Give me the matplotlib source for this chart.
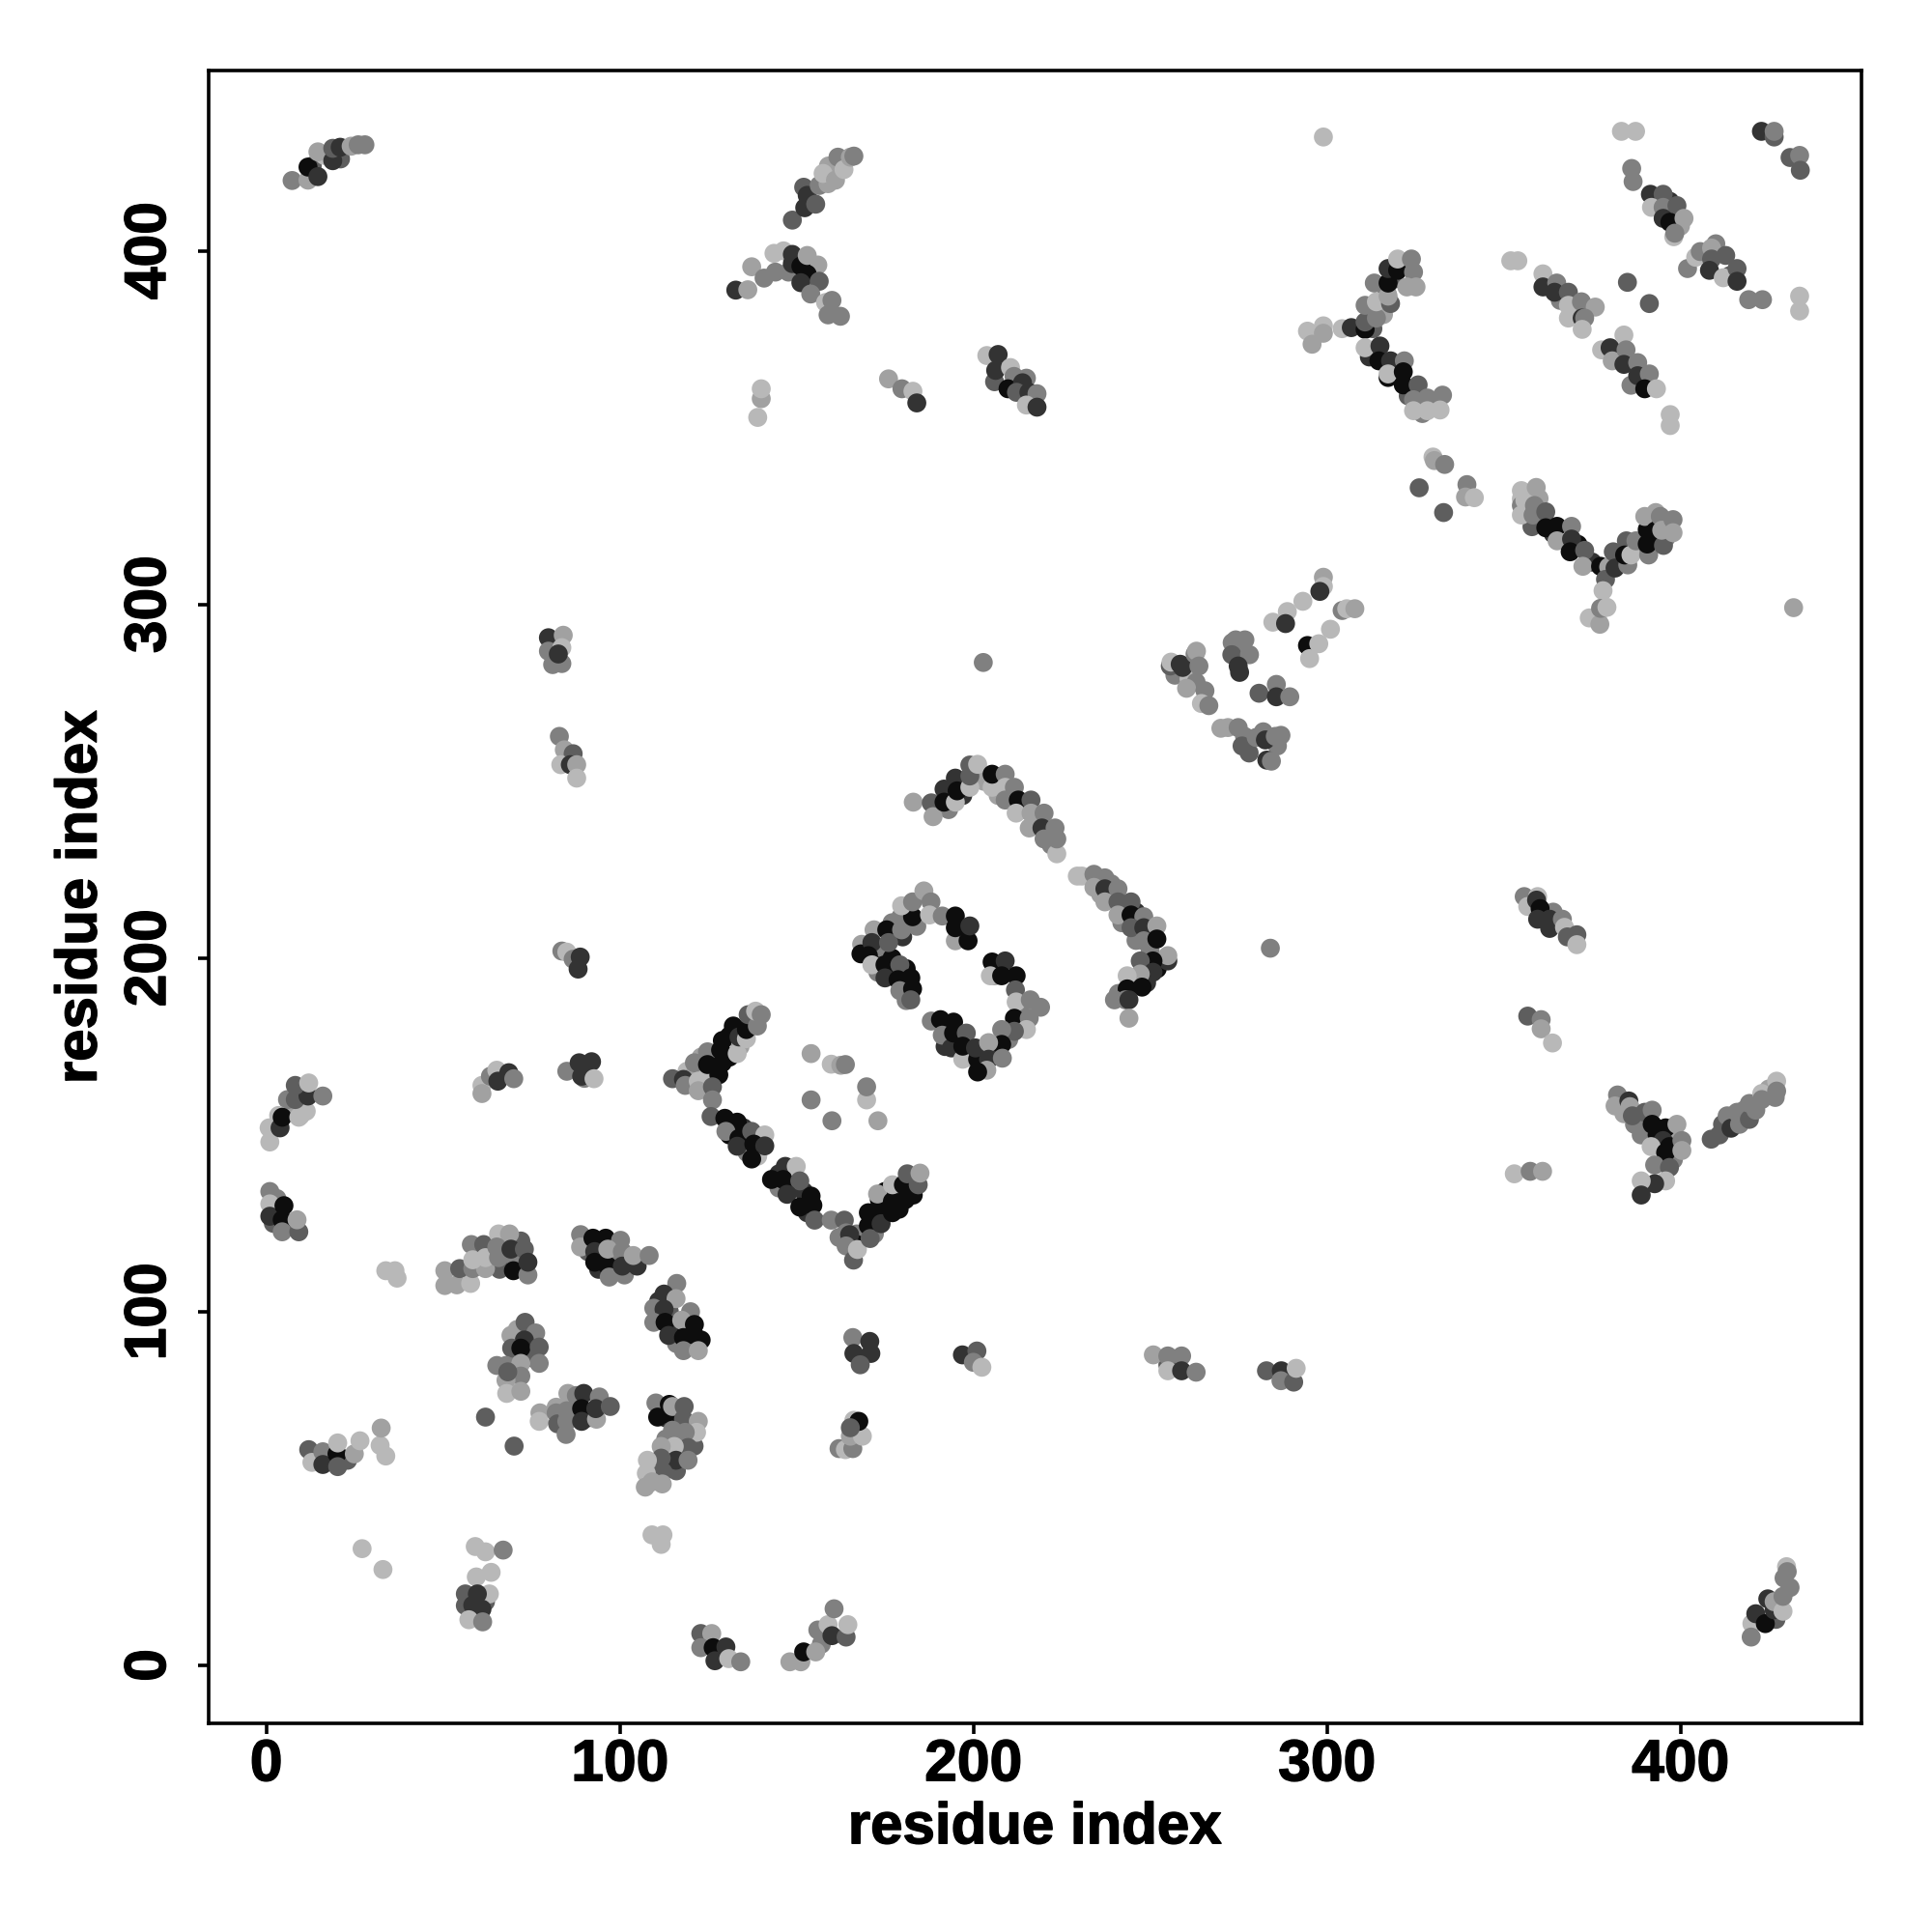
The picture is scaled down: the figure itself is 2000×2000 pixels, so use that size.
import matplotlib
matplotlib.use("Agg")
import matplotlib.pyplot as plt
import matplotlib.patheffects as pe

plt.rcParams['font.family'] = ['Liberation Sans', 'DejaVu Sans']
plt.rcParams['font.weight'] = 'bold'

# (residue i, residue j, contact level), 6 is strongest
# points half hidden inside the thick bands, drawn first
under = [
 (119,168,1),(121,167,2),(125,167,1),(127,172,6),(131,172,6),(131,178,6),(134,175,2),(123,172,2),(128,167,6),(137,182,5),
 (131,150,6),(135,152,5),(135,148,2),(136,145,3),(139,144,1),(145,139,5),(145,135,3),(148,135,6),(152,134,5),(153,128,5),
 (167,122,3),(167,119,6),(162,121,3),(172,127,6),(172,122,3),(175,128,6),(175,134,6),(179,134,5),(183,133,6),(179,129,6),
 (173,201,5),(174,203,3),(177,200,6),(181,197,6),(177,196,6),(173,196,3),(180,206,5),(184,209,3),(177,210,3),(181,188,3),
 (193,181,6),(196,177,5),(192,175,5),(199,172,2),(203,169,6),(206,173,5),(210,177,3),(213,186,3),(197,207,6),(206,195,2),
 (193,246,6),(197,246,5),(193,242,3),(197,250,3),(203,250,2),(207,246,2),(214,242,3),(218,239,2),(222,232,3),(242,214,2),
 (242,210,3),(246,213,5),(250,202,3),(252,197,6),(249,193,5),(245,193,5),(241,190,3),(236,218,2),(239,221,3),(246,205,3),
 (60,114,2),(70,114,3),(72,120,4),(66,112,4),(94,112,5),(99,115,3),(99,119,5),(95,115,6),(103,115,4),(91,117,4),
 (111,103,5),(114,100,4),(115,96,6),(117,95,5),(119,95,6),(123,92,6),(116,91,3),(70,86,3),(75,87,4),(71,95,2),
 (113,70,5),(116,67,3),(113,64,3),(117,60,4),(121,62,4),(116,55,4),(109,55,2),(87,74,3),(91,70,4),(82,73,2),
 (18,58,4),(14,58,3),(23,58,4),(58,19,3),(60,14,4),(62,18,4),(128,4,5),(157,6,3),(427,13,4),(431,22,3),
 (7,157,2),(6,160,3),(2,125,4),(3,132,3),(7,124,5),(13,424,4),(21,426,4),(144,394,3),(156,396,2),
 (317,388,3),(319,392,4),(322,396,5),(316,382,2),(313,378,4),(320,366,3),(323,359,4),(329,357,2),(327,354,3),(312,370,5),
 (358,322,4),(360,330,2),(364,320,5),(371,317,6),(375,312,5),(383,312,5),(388,316,3),(393,318,5),(393,326,2),(396,319,3),
 (392,152,5),(394,147,6),(398,149,2),(387,153,3),(384,156,2),(398,143,3),(411,150,4),(418,157,3),(425,163,2),
 (393,413,4),(397,414,5),(400,407,2),(402,395,3),(410,402,3),(414,393,4),(366,386,3),(371,383,3),(386,362,3),(382,370,3),
 (257,280,3),(261,279,1),(263,278,3),(270,265,2),(278,258,4),(282,264,3),(286,260,3),(276,287,3),(361,212,5),(364,213,3),
 (206,363,4),(215,364,3),(152,418,4),(159,424,2),(81,283,3),(90,166,3),(200,87,4),(255,85,4),
]

low_left = [
 (1,148,1),(0.8,152,1),(3.5,155.5,1),(3.9,152,5),(4.5,155,6),(9.2,155,1),(9.7,155.5,1),(11.3,156.7,1),(8.2,160,4),(11.8,161,5),(8.2,164,4),(12,164.7,1),(16,161,3),
 (1,134,3),(1,130.5,1),(1,127,5),(5,130,6),(4.5,126,6),(4.5,122.6,3),(9.2,122.6,4),(8.7,126,2),
 (33.8,111.6,1),(36.4,111.6,1),(37,109.5,1),
 (50.5,107.4,2),(50.5,111.6,2),(53.9,107.6,2),(57.8,108,1),(54.7,112.2,4),(58.4,112.2,3),(58,119,3),(62,112.2,2),(58.4,114.7,1),(61.5,119,4),(62,115.3,1),(65.7,122,1),(68.8,122,2),(65.2,118.3,3),(65.7,115.3,3),(69.2,117.7,5),(73,117.7,4),(69.9,111.6,6),(74,110.4,3),(74,114,5),
 (88.9,121.8,3),(88.9,118.3,2),(92.4,120.8,6),(96,120.8,6),(92.9,117,5),(92.9,114,6),(96.6,112.9,6),(100.2,120.2,3),(96.6,117.7,2),(97,109.8,3),(101.3,110.4,3),(100.7,117,3),(100.7,112.9,5),(104.9,112.9,5),(103.8,115.9,2),(108.3,115.9,3),
 (116.1,108,3),(112.5,105,5),(115.9,103.7,2),(109.6,101,3),(112.5,100.7,5),(109.6,97,3),(112.8,97,6),(120,100,3),(113.8,93.3,5),(117.5,97.6,2),(121.1,96.4,6),(121.1,93.3,6),(118,92.7,6),(118,89,3),(122.2,89,2),
 (73.2,97,4),(76.2,94,3),(69.2,93.3,2),(73,92,5),(69.4,89.7,4),(72,89.7,6),(77.2,90,4),(77.2,85.4,3),(65.2,84.8,3),(67.8,84.8,3),(72,85.4,2),(72,81.8,3),(67.8,80.6,2),(68,76.9,1),(72,77.5,2),(68.3,83,4),
 (62,70.2,4),(70.1,62,4),
 (77.4,71.4,2),(77.2,69,1),(82,71.4,3),(82.4,68.3,4),(85,69,3),(84.8,65.3,3),(85.3,76.9,2),(87.7,76.3,3),(85,72,3),(89.8,76.9,5),(89.2,72.6,6),(89.2,69,5),(93.4,69.6,2),(94.2,75.9,3),(93.2,72.6,5),(97.3,73.2,4),
 (110.2,74.2,3),(114,73.8,6),(110.7,70.2,6),(114.3,70.8,6),(114.9,73.2,2),(118.2,73.2,4),(118,69.6,4),(122.2,69,2),(121.7,65.9,1),(118.5,65.9,3),(114.9,66.5,3),(119.3,61.6,4),(115.4,61.9,1),(111.7,61.9,2),(115.9,58,5),(119.3,58,3),(111.7,58.6,4),(112.2,54.7,4),(107.8,58,1),(107.5,54.3,1),(107.2,50.4,2),(112,51.3,2),(109.1,51.9,2),
 (109.1,36.9,1),(112.2,36.9,1),(111.7,34.2,1),
 (12,61,4),(12.9,57.4,1),(16,60.4,3),(16,56.8,5),(20,59.8,6),(20.2,62.9,1),(20.2,56.2,4),(24.9,59.8,2),(26.5,63.5,1),(32.2,62.2,1),(32.5,67.1,2),(33.8,59.2,1),
 (27.1,33,1),(33,27.1,1),
 (59.1,33.6,1),(62,32.1,1),(67,32.6,3),(59.4,25,1),(63.6,26.3,1),(63.1,20.2,1),(56.3,20.2,4),(59.7,20.2,5),(56.3,16.9,4),(61,15.9,5),(58.4,17,5),(57.3,12.9,1),(61.2,12.3,3),
 (122.9,9,4),(126,9,2),(122.9,5,3),(126.4,5,6),(130,5.2,5),(126.9,1.3,5),(130.8,1.9,1),(134.2,1,3),
]

arm_e = [
 (114.9,165.9,4),(118,165.7,5),(118.5,164,3),(121.1,170.4,3),(122.2,165.2,1),(122.2,162.5,2),(124.8,173.5,3),(124.8,169.9,6),(126.2,163.6,4),(126.2,159.9,3),(129,170.4,6),(128.5,174,6),(129,176.7,6),(133.2,173,1),(132.1,180.8,6),(133.7,177.7,5),(135.8,177.2,1),(135.8,179.8,6),(136.3,184,4),(138.9,180.8,3),(138.4,185,1),(140,184,3),
 (125.8,155.2,4),(129.7,154.7,6),(133.2,153.6,6),(130,151,3),(133.7,149,6),(133.2,146.8,5),(137.3,151,4),(141,150,1),(137.9,147.4,6),(141,146.9,5),(137.3,143.2,6),
 (142.9,137.4,6),(146.8,141.1,5),(149.9,141.1,1),(146.2,137.4,6),(150.9,137,4),(147.3,133.2,5),(150.9,129.6,6),(154.1,132.7,6),(154.6,130.1,6),(155.1,125.9,4),
 (159.8,125.9,3),(163.5,125.9,4),(164,122.3,3),(165,121.8,5),(164,118.6,3),(166.1,114.6,4),(167.2,117.6,1),(170.3,128,6),(170.3,124.3,6),(170.8,120.7,4),(173.9,124.9,5),(173.4,131.7,6),(172.9,133.3,2),(177.1,131.2,6),(177.1,128,6),(177.1,135.9,1),(180.8,131.7,6),(180.2,135.9,6),(181.3,139,4),(184.4,135.9,4),(184.9,139.2,2),
 (154.1,173,2),(159.8,170,1),(162.5,169.7,2),(163.8,169.9,3),(154.1,159.9,3),(160,154,3),(169.8,159.9,1),(169.8,163.6,3),(173,154,2),
]

box_d = [
 (168.4,203.9,2),(168.2,201.2,6),(171.9,208,2),(171.3,204.4,5),(170.3,200.7,6),(171.3,198.1,1),(175.5,208,6),(176,204.4,4),(179.7,208,3),(179.5,211.7,3),(182.8,211.7,6),(179.7,214.8,1),(182.8,215.9,3),(186,219,2),(188,215.9,3),(187.6,212.2,1),
 (175,198.1,6),(179.2,198.1,4),(175,194.4,5),(178.7,193.9,6),(182.3,194.4,6),(179.2,190.8,3),(182.8,191.3,6),(182.3,188.2,4),
 (191.2,211.9,3),(194.9,204.9,2),(194.9,211.9,6),(194.9,208.6,6),(198.5,204.9,6),(199,209.1,5),
 (205.3,198.9,6),(209,199.2,5),(204.8,195,1),(208,195,6),(212.1,195,6),(211.9,191,4),(212.1,187.6,1),(216.1,188.2,3),(219,186.1,3),(211.6,183,6),(215.8,183,3),(215,179.8,1),(211.6,179.3,4),(208,179.8,3),(208,175.6,6),
 (188.1,182.2,3),(190.7,182.6,6),(194.4,181.9,6),(191.2,178.2,3),(193.8,174.6,5),(194.4,178.8,6),(198,178.8,4),(197,171.4,1),(197,175.1,6),(201.2,171.4,6),(200.6,174.6,5),(204.3,176.1,2),(204.3,171.4,5),(203.8,168.3,2),(201.2,167.8,6),(208.2,171.7,3),
 (183,244.1,2),(188.1,243.9,4),(188.6,240,2),(191.7,247.8,5),(191.7,244.1,6),(194.9,244.1,1),(194.9,250.9,5),(195.4,247.3,6),(199,248.3,1),(199,251.5,4),(199,254.6,4),(201.2,254.8,1),
 (205.3,248.3,1),(205.3,252,6),(209,252,3),(209,248.3,1),(211.6,248.3,3),(209,244.7,3),(212.7,244.7,6),(216.3,244.7,4),(212.1,241,1),(216.3,241,2),(220,241,3),(215.8,236.8,2),(219.4,236.8,5),(223.1,236.8,3),(220,233.7,3),(223.6,229.5,1),(223.6,233.7,3),
 (229.4,223.2,1),(230.7,223.2,1),(234.1,223.7,3),(237.2,222.7,3),(234.1,220,2),(237.2,219.6,5),(240.9,219.6,3),(237.2,215.9,2),(240.9,215.9,4),(244.6,215.9,4),(240.9,212.2,2),(244.6,212.2,6),(248.2,211.7,3),(244.6,208.6,4),(248.2,208.6,5),(251.9,209.1,2),(248.2,204.9,3),(251.9,205.4,6),
 (255,199.2,5),(255,200.7,2),(250.8,199.2,6),(247.2,199.2,4),(250.8,196,5),(247.2,195.5,2),(243.5,195,1),(247.7,191.8,6),(243.5,191.3,6),(239.9,188.2,3),(243,188.2,3),(244,188.2,5),(244,183,2),
]

top_left = [
 (7.3,419.9,3),(11.8,420,2),(11.8,423.7,6),(14.6,421,5),(16.4,427,1),(14.6,428,2),(18.8,425.5,5),(18.8,429,4),(20.9,429.3,5),(24,429.6,2),(26,430,3),(27.9,430,3),
 (132.8,388.9,5),(136.2,389,2),(137.3,395.5,2),(140.8,392.3,3),(143.6,399.3,1),(146.3,400,1),(147.7,394,3),(148.8,396.4,5),(148.8,399,5),(151.2,395.7,6),(153,393.4,6),(151.2,391,5),(153,398.7,2),(156.4,391.4,4),(154,387.8,3),(158.2,385.4,1),(158.9,381.9,3),(160,386,3),(162.4,381.5,3),
 (148.8,408.7,4),(152.3,412.2,5),(153,415.7,5),(155.4,413.2,4),(156.4,418.5,3),(158.9,419,2),(157.5,421.9,1),(161,420,2),(161.7,426.5,3),(163.4,423,1),(165.2,426.5,2),(166.2,426.8,3),
 (139,352.9,1),(140,358.2,2),(140,361,1),(176,363.8,2),(179.8,361,3),(182.9,360.3,1),(184,357,5),
 (203.8,370.4,1),(207,370.7,5),(206.3,366.2,5),(210.5,367,1),(211.5,364.5,3),(209.8,361,6),(213.9,362.7,5),(212.2,360,4),(215.7,360,5),(218,359.6,3),(215,356.4,1),(218,355.8,5),
 (79.8,290.6,5),(84,291.3,2),(79.8,286.8,3),(83.6,283.3,3),(83.6,287.8,1),(82.6,286,5),
 (82.9,262.7,3),(84.3,258.9,2),(86.8,257.8,4),(83.3,254.7,1),(86,254.7,5),(87.8,254.7,2),(87.8,250.9,1),
 (83.6,202,3),(85,201.7,1),(86.8,199.7,3),(88.8,200.3,5),(88.2,196.9,5),
 (85,168,3),(88.5,170.4,5),(92,170.7,5),(89.2,166.6,5),(92.7,165.9,1),
 (61,164,1),(61,161.7,2),(63.4,166.6,3),(65.2,168.3,1),(65.5,165.2,5),(68.6,167.6,5),(70,165.9,3),
]

bottom_mid = [
 (162,61.3,3),(163.8,61,1),(165.9,61.3,3),(165.2,64.8,2),(168.6,64.8,1),(166.2,69.3,1),(167.6,69,6),(165.2,67.2,4),
 (165.9,92.7,3),(170.7,91.6,5),(166.2,88.2,5),(171,88.2,5),(168,85,4),
 (196.9,87.8,5),(201,88.9,4),(200,85.7,3),(202.4,84.3,1),
 (250.9,87.8,2),(255,87.5,3),(258.9,87.5,3),(255,83.3,1),(258.9,83.3,5),(263,82.9,3),
 (282.9,83.3,4),(287.1,83.3,5),(287,80.5,3),(290.6,80.1,4),(291.3,84,1),
 (148.1,1,2),(151.2,1,2),(152,3.8,6),(155.4,3.8,2),(156,10,3),(158.9,11.5,1),(160.6,16,3),(160,8.4,5),(164,8,4),(164.5,11.5,1),
 (420.2,11.8,1),(420,8,3),(421.3,14.6,5),(424,11.8,6),(424.7,18.8,5),(426.5,15.7,5),(426.5,18,2),(429,15.3,1),(429,19.5,3),(429.3,24.7,3),(430,27.9,1),(430.2,26.5,3),
]

right_low = [
 (353,139,1),(357.5,139.7,3),(361,139.7,2),
 (356.8,183.6,4),(360.6,182.6,3),(360.6,180,2),(363.8,176,1),
 (355.8,217.4,3),(356.8,214.6,1),(359.6,217.4,1),(359.3,216.4,5),(360.3,214,6),(359.6,211,5),(363,211,5),(363,208.4,5),(366.6,211,3),(367.2,208.7,1),(368,206,4),(370.7,206.6,4),(370.7,203.8,1),
 (382.2,161.3,3),(381.5,158.2,2),(385.4,159.6,5),(385.7,158,2),(386.4,155.4,4),(389.9,156.4,4),(392,157,3),(388.9,150,3),(392,153,6),(393.4,150,6),(395.8,152,6),(395.1,148.4,5),(396.9,146.7,6),(391.7,146.7,1),(395.8,145,6),(399,153,2),(400.4,148.4,3),(400.4,145.6,2),(392.7,141.5,3),(396.9,140.8,4),(395.8,137,1),(392.7,136.2,5),(388.9,137,1),(388.9,133,5),
 (408.7,148.8,4),(411.9,153,4),(413.2,155.4,3),(414.3,151.9,5),(416,156.4,3),(416.7,153,3),(419.5,154.4,4),(419.5,158.9,3),(421.3,157,3),(423,161.7,1),(423,160,3),(426.8,160.6,3),(427.2,165.2,1),(427.2,162.4,3),
 (284,202.8,3),(202.8,283.6,3),
]

right_mid = [
 (355,332.2,1),(355,329.9,1),(355,328,3),(355,325.3,1),(356,329.4,1),(359.2,333.1,2),(358.7,328,3),(358.3,325.3,3),(361.9,326.2,4),(361.9,321.7,6),(365.1,322.1,6),(365.1,318,2),(369.2,322.1,3),(369.2,318.5,5),(368.8,314.9,6),(372.9,315.3,4),(372.4,310.8,2),(377.4,310.8,6),(379.7,310.6,2),(378.8,307.1,4),(381,314.9,4),(381.5,310.3,5),(385.1,311.2,3),(384.7,318,4),(384.2,314,6),(386,314,1),(387.4,318,3),(391,314,3),(390.6,317.1,6),(390.6,321.2,6),(389.9,324.9,2),(392.9,320.8,6),(394.3,324.9,3),(395.2,316.7,4),(394.7,321,2),(397.9,324,3),(397.9,320.3,2),
 (378.1,303.9,1),(374.2,296.2,1),(376.5,296.6,1),(377.2,294.4,2),(377.4,298.9,3),(379.2,299.2,1),
 (432,299.1,2),
 (330,341.7,1),(330.4,340.7,2),(333.3,339.6,3),(326.1,333,4),(333,326,4),(339.6,333.9,3),(339.2,330.4,2),(341.7,330.2,1),
 (255.7,282.6,4),(255.9,283.7,1),(258.5,283.1,5),(259.2,282.2,5),(262.7,286,3),(263.1,286.8,2),(263.8,282.6,3),(260.3,276.3,2),(265.5,275.6,3),(264.5,272,1),(266.6,271.4,3),
 (273.2,289.2,3),(274.2,290,3),(276.8,290,3),(273.1,285.8,4),(278.1,285.8,3),(274.9,282.6,5),(275.3,280.8,5),
 (272,265.2,2),(274.9,265.2,3),(276.7,262.7,3),(276,260,4),(280,262.4,3),(282.6,261.7,5),(285.4,262.7,3),(287,263,3),(283,256,5),(284.3,255.7,3),(280.8,274.9,4),(285.7,277.4,3),(285.7,273.9,5),(289.5,273.9,3),
 (299,307.7,2),(299,305.1,1),(298,303.7,5),(293.2,300.9,1),(288.8,298,1),(284.7,295,1),(288.3,294.6,5),(304.3,298.3,3),(305.6,298.8,1),(307.9,298.8,2),(301,293,1),(294.5,288.4,6),(297.7,288.9,1),(295.1,284.7,1),
]

top_right = [
 (299,432.2,1),(383.3,433.8,1),(387.3,433.8,1),(422.9,433.8,5),(426.5,432.2,4),(426.5,433.8,3),(431,426.4,4),(433.7,427,3),(433.9,422.8,4),
 (386.2,423.3,3),(386.6,419.6,3),(391.5,416,5),(395.1,416,4),(391.8,412.3,1),(395.1,412.3,3),(399,412.8,4),(395.1,409.2,5),(397,408.1,6),(401,409.2,2),(398.1,404,1),(398.4,405,3),
 (404.3,398.2,1),(405.6,399.8,3),(408.8,400.8,2),(408.8,397.7,4),(408.2,394.5,5),(412.8,398.7,4),(412.1,392.4,1),(416,395,4),(416,391.4,5),(419.3,386.2,3),(423.2,386.2,3),
 (385,391.1,4),(391.2,385.1,4),(433.7,387.2,1),(433.7,383,1),(352,397.2,1),(354,397.2,1),
 (361.1,393.5,1),(361.1,389.8,5),(365,390.9,3),(364.4,388.3,5),(368.3,388.3,4),(368.3,384.6,1),(372,385.6,3),(375.9,384.1,2),(368.3,381,1),(372.2,381,5),(372.9,381,3),(372.2,377.8,1),
 (377.7,372,1),(380.1,372.6,5),(384,376.2,1),(380.7,368.9,2),(384.6,372,3),(384,367.9,5),(387.9,368.4,3),(387.9,364.7,5),(391.2,365.2,3),(389.9,361,6),(393.2,361,1),(397.1,353.7,1),(397.1,350.6,1),
 (294.5,377.3,1),(296.4,375.7,1),(295.8,373.6,2),(299,378.8,1),(299,376.7,2),(304.3,378,1),(306.9,378.3,5),(310.8,377.8,6),(310.8,379.9,4),(310.8,384.6,3),(314,381,3),(314,385.6,1),(318,385.1,4),(317.3,387.2,2),(313.4,390.9,3),(317.3,390.9,6),(317.3,395,5),(320,394.5,6),(320,397.7,1),(323.9,397.7,3),(324.5,394,3),(322.6,389.8,2),(325.2,389.8,2),
 (310.8,372.6,1),(315,373.1,5),(314.7,368.9,6),(318,368.9,5),(321.9,368.9,3),(317.3,364.2,6),(317.3,365.2,1),(321.6,365.8,6),(321.6,362.1,6),(325.8,362.1,4),(324.5,357.9,3),(328.4,358.4,3),(332.7,359.2,3),(324.5,354.8,1),(328.4,354.8,1),(332,355,1),
]

tick_values = [0, 100, 200, 300, 400]
axis_label = "residue index"
greys = {1: 0.72, 2: 0.63, 3: 0.5, 4: 0.37, 5: 0.2, 6: 0.05}

fig = plt.figure(figsize=(10, 10), dpi=200)
ax = fig.add_axes([0.108, 0.108, 0.8555, 0.8555])

for group in [under, low_left, arm_e, box_d, top_left, bottom_mid, right_low, right_mid, top_right]:
    xs = [p[0] for p in group]
    ys = [p[1] for p in group]
    cols = [str(greys[p[2]]) for p in group]
    ax.scatter(xs, ys, s=50, c=cols, linewidths=0, zorder=2)

ax.set_xlim(-16.3, 451.2)
ax.set_ylim(-16.4, 451)
ax.set_xticks(tick_values)
ax.set_yticks(tick_values)
ax.tick_params(axis='x', length=4, width=1.3, labelsize=21.8, pad=1.5)
ax.tick_params(axis='y', length=4, width=1.3, labelsize=21.8, pad=7.5, labelrotation=90)
for lab in ax.get_yticklabels():
    lab.set_va('center')
for s in ax.spines.values():
    s.set_linewidth(1.3)

ax.set_xlabel(axis_label, fontsize=21.6, fontweight='bold')
ax.set_ylabel(axis_label, fontsize=21.6, fontweight='bold')
ax.xaxis.set_label_coords(0.5, -0.0475)
ax.yaxis.set_label_coords(-0.061, 0.5)

# reference lettering is a little heavier than Liberation bold
thicker = [pe.withStroke(linewidth=0.5, foreground='black')]
for t in ax.get_xticklabels() + ax.get_yticklabels() + [ax.xaxis.label, ax.yaxis.label]:
    t.set_path_effects(thicker)

fig.savefig("out.png", dpi=200)
